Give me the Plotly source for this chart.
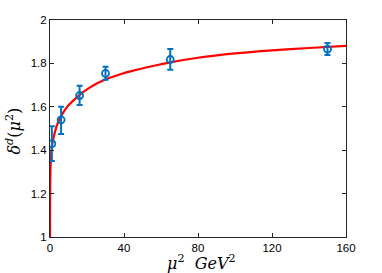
import plotly.graph_objects as go

# Data points with error bars
mu2 = [1, 6, 16, 30, 65, 150]
delta = [1.43, 1.54, 1.652, 1.754, 1.818, 1.866]
err_plus = [0.08, 0.06, 0.045, 0.031, 0.048, 0.028]
err_minus = [0.08, 0.065, 0.044, 0.029, 0.047, 0.027]

# Fitted curve
curve_x = [0, 0.01, 0.03, 0.1, 0.2, 0.35, 0.6, 1, 1.5, 2, 3, 4, 5, 6, 8, 10, 13, 16, 20, 25, 30, 38,
           45, 55, 65, 80, 100, 120, 140, 160]
curve_y = [1.0, 1.08, 1.15, 1.23, 1.29, 1.34, 1.38, 1.415, 1.44, 1.46, 1.495, 1.52, 1.54, 1.557, 1.585,
           1.607, 1.632, 1.655, 1.68, 1.706, 1.726, 1.750, 1.767, 1.787, 1.805, 1.826, 1.846, 1.86,
           1.871, 1.881]

x_ticks = [0, 40, 80, 120, 160]
y_ticks = [1, 1.2, 1.4, 1.6, 1.8, 2]
y_tick_labels = ["1", "1.2", "1.4", "1.6", "1.8", "2"]

blue = "#0072BD"

fig = go.Figure()
fig.add_trace(go.Scatter(
    x=curve_x, y=curve_y, mode="lines", line=dict(color="#ff0000", width=2.2, shape="spline", smoothing=0.6),
    showlegend=False, hoverinfo="skip"))
fig.add_trace(go.Scatter(
    x=mu2, y=delta, mode="markers",
    marker=dict(symbol="circle-open", size=7, color=blue, line=dict(width=1.8, color=blue)),
    error_y=dict(type="data", symmetric=False, array=err_plus, arrayminus=err_minus,
                 color=blue, thickness=2, width=3),
    showlegend=False))

axis_common = dict(
    showgrid=False, zeroline=False, showline=True, linecolor="#262626", linewidth=1,
    mirror="ticks", ticks="inside", ticklen=4, tickcolor="#262626", tickwidth=1,
    tickfont=dict(family="Liberation Sans, Arial, sans-serif", size=11.5, color="#000000"),
)

fig.update_layout(
    width=382, height=273,
    margin=dict(l=49.5, r=36, t=20, b=36),
    paper_bgcolor="white", plot_bgcolor="white",
    xaxis=dict(range=[0, 160], tickvals=x_ticks, ticktext=[str(v) for v in x_ticks], **axis_common),
    yaxis=dict(range=[1, 2], tickvals=y_ticks, ticktext=y_tick_labels, **axis_common),
)

fig.add_annotation(
    text="<i>μ</i><sup>2</sup>&nbsp;&nbsp;<i>GeV</i><sup>2</sup>", xref="paper", yref="paper",
    x=0.512, y=-0.06, xanchor="center", yanchor="top", showarrow=False,
    font=dict(family="DejaVu Serif, Liberation Serif, serif", size=16, color="#000000"))
fig.add_annotation(
    text="<i>δ</i><sup><i>d</i></sup>(<i>μ</i><sup>2</sup>)", xref="paper", yref="paper",
    x=-0.122, y=0.49, xanchor="center", yanchor="middle", textangle=-90, showarrow=False,
    font=dict(family="DejaVu Serif, Liberation Serif, serif", size=16, color="#000000"))

fig.write_html("out.html", config={"displayModeBar": False},
               post_script="document.body.style.margin='0';document.body.style.padding='0';")
